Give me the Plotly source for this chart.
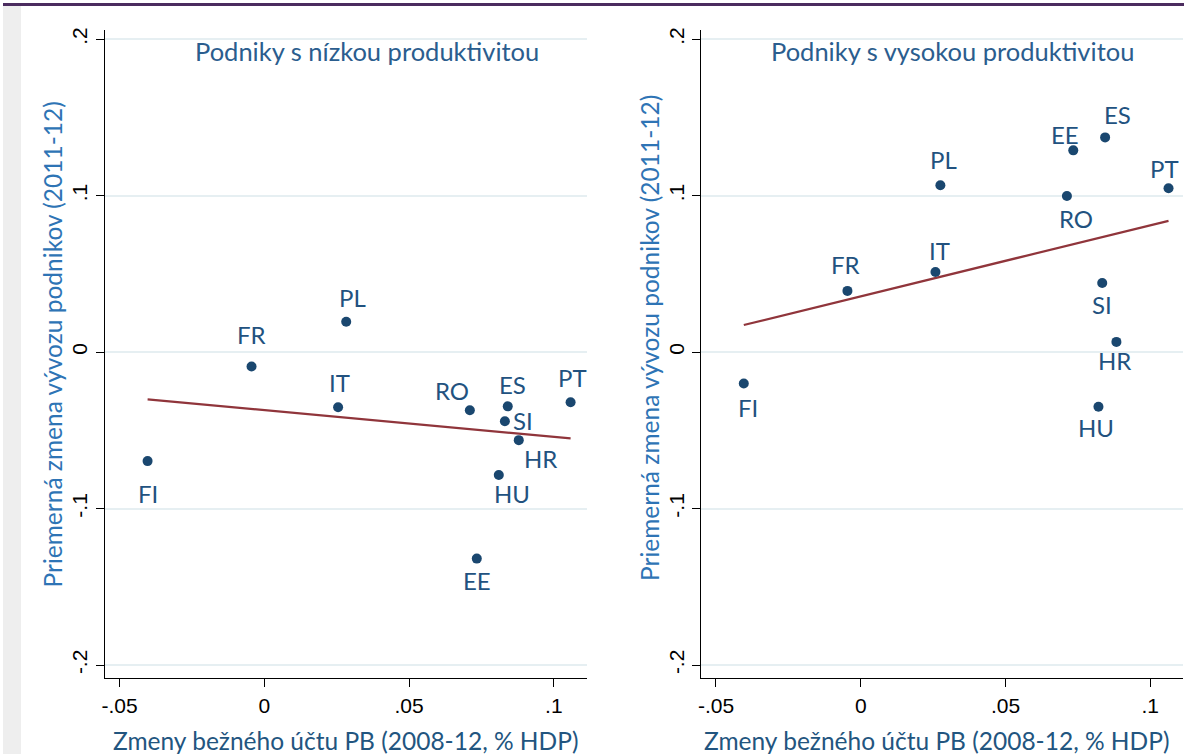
import numpy as np
import plotly.graph_objects as go

# ---------------- data ----------------
countries_low = ["FI", "FR", "PL", "IT", "RO", "ES", "SI", "HR", "HU", "EE", "PT"]
x_low = [-0.0403, -0.0044, 0.0283, 0.0255, 0.0710, 0.0841, 0.0831, 0.0879, 0.0810, 0.0734, 0.1058]
y_low = [-0.0697, -0.0092, 0.0194, -0.0353, -0.0372, -0.0347, -0.0442, -0.0563, -0.0786, -0.1320, -0.0321]

countries_high = ["FI", "FR", "IT", "PL", "RO", "EE", "ES", "PT", "SI", "HR", "HU"]
x_high = [-0.0404, -0.0046, 0.0258, 0.0275, 0.0712, 0.0734, 0.0844, 0.1063, 0.0834, 0.0883, 0.0821]
y_high = [-0.0201, 0.0391, 0.0512, 0.1066, 0.0997, 0.1289, 0.1372, 0.1047, 0.0441, 0.0065, -0.0349]

panel_titles = ["Podniky s nízkou produktivitou", "Podniky s vysokou produktivitou"]
x_title = "Zmeny bežného účtu PB (2008-12, % HDP)"
y_title = "Priemerná zmena vývozu podnikov (2011-12)"

x_tickvals = [-0.05, 0, 0.05, 0.1]
x_ticktext = ["-.05", "0", ".05", ".1"]
y_tickvals = [-0.2, -0.1, 0, 0.1, 0.2]
y_ticktext = ["-.2", "-.1", "0", ".1", ".2"]

# label offsets in pixels (style)
offs_low = [(0, -32), (0, 32), (6, 24), (1, 25), (-18, 20), (5, 22), (18, 1), (22, -18),
            (13, -18), (0, -22), (2, 25)]
offs_high = [(4, -24), (-2, 26), (4, 21), (3, 26), (9, -22), (-8, 16), (12, 23), (-4, 20),
             (0, -21), (-2, -19), (-2, -21)]

# ---------------- styles ----------------
W, H = 1184, 754
MARKER = "#1a476f"
LINE = "#90353b"
LABEL_C = "#22527f"
TITLE_C = "#2b5d8e"
YT_C = "#2e74b5"
XT_C = "#22557f"
GRID = "#e6eff2"
TXT_FONT = "Lato"
TICK_FONT = "Liberation Sans"

def px_x(p):
    return p / W

def px_y(p):
    return 1 - p / H

x_range = [-0.0551, 0.1113]
y_range = [-0.2085, 0.2059]

fig = go.Figure()

panels = [
    (countries_low, x_low, y_low, offs_low, "x", "y"),
    (countries_high, x_high, y_high, offs_high, "x2", "y2"),
]

annotations = []
for names, xs, ys, offs, xa, ya in panels:
    xs_a = np.array(xs)
    ys_a = np.array(ys)
    slope, intercept = np.polyfit(xs_a, ys_a, 1)
    xf = np.array([xs_a.min(), xs_a.max()])
    fig.add_trace(go.Scatter(x=xf, y=intercept + slope * xf, mode="lines",
                             line=dict(color=LINE, width=2.2), xaxis=xa, yaxis=ya,
                             showlegend=False, hoverinfo="skip"))
    fig.add_trace(go.Scatter(x=xs, y=ys, mode="markers",
                             marker=dict(color=MARKER, size=10), xaxis=xa, yaxis=ya,
                             showlegend=False, text=names))
    for n, xv, yv, (dx, dy) in zip(names, xs, ys, offs):
        annotations.append(dict(x=xv, y=yv, xref=xa, yref=ya, text=n, showarrow=False,
                                xshift=dx, yshift=dy, xanchor="center", yanchor="middle",
                                font=dict(family=TXT_FONT, size=24, color=LABEL_C)))

# panel titles
for t, cx in zip(panel_titles, [365, 952]):
    annotations.append(dict(x=px_x(cx), y=px_y(48), xref="paper", yref="paper", text=t,
                            showarrow=False, xanchor="center", yanchor="middle",
                            font=dict(family=TXT_FONT, size=25.5, color=TITLE_C)))
# axis titles
for cx in [343, 936]:
    annotations.append(dict(x=px_x(cx), y=px_y(740), xref="paper", yref="paper", text=x_title,
                            showarrow=False, xanchor="center", yanchor="middle",
                            font=dict(family=TXT_FONT, size=24.5, color=XT_C)))
for cx, cy in [(50, 343), (648, 336)]:
    annotations.append(dict(x=px_x(cx), y=px_y(cy), xref="paper", yref="paper", text=y_title,
                            showarrow=False, xanchor="center", yanchor="middle", textangle=-90,
                            font=dict(family=TXT_FONT, size=24.5, color=YT_C)))

xaxis_style = dict(range=x_range, tickvals=x_tickvals, ticktext=x_ticktext, showgrid=False,
                   zeroline=False, showline=True, linecolor="black", linewidth=1.3,
                   ticks="outside", ticklen=8, tickcolor="black", tickwidth=1.3,
                   tickfont=dict(family=TICK_FONT, size=21, color="black"))
yaxis_style = dict(range=y_range, tickvals=y_tickvals, ticktext=y_ticktext, showgrid=True,
                   gridcolor=GRID, gridwidth=2, zeroline=False, showline=True,
                   linecolor="black", linewidth=1.3, ticks="outside", ticklen=8,
                   tickcolor="black", tickwidth=1.3, tickangle=-90,
                   tickfont=dict(family=TICK_FONT, size=21, color="black"))

y_dom = [px_y(678), px_y(27)]
fig.update_layout(
    width=W, height=H,
    margin=dict(l=0, r=0, t=0, b=0),
    paper_bgcolor="white", plot_bgcolor="white",
    xaxis=dict(domain=[px_x(102), px_x(585)], anchor="y", **xaxis_style),
    yaxis=dict(domain=y_dom, anchor="x", **yaxis_style),
    xaxis2=dict(domain=[px_x(700), px_x(1183)], anchor="y2", **xaxis_style),
    yaxis2=dict(domain=y_dom, anchor="x2", **yaxis_style),
    annotations=annotations,
    shapes=[
        dict(type="rect", xref="paper", yref="paper", x0=0, x1=px_x(18), y0=0, y1=1,
             fillcolor="#eeeeee", line=dict(width=0), layer="below"),
        dict(type="rect", xref="paper", yref="paper", x0=0, x1=1, y0=px_y(3), y1=1,
             fillcolor="#4b2c5f", line=dict(width=0), layer="above"),
    ],
)

fig.write_html(
    "out.html",
    config={"displayModeBar": False},
    post_script="document.body.style.margin='0px';document.body.style.padding='0px';"
                "document.body.style.overflow='hidden';",
)
